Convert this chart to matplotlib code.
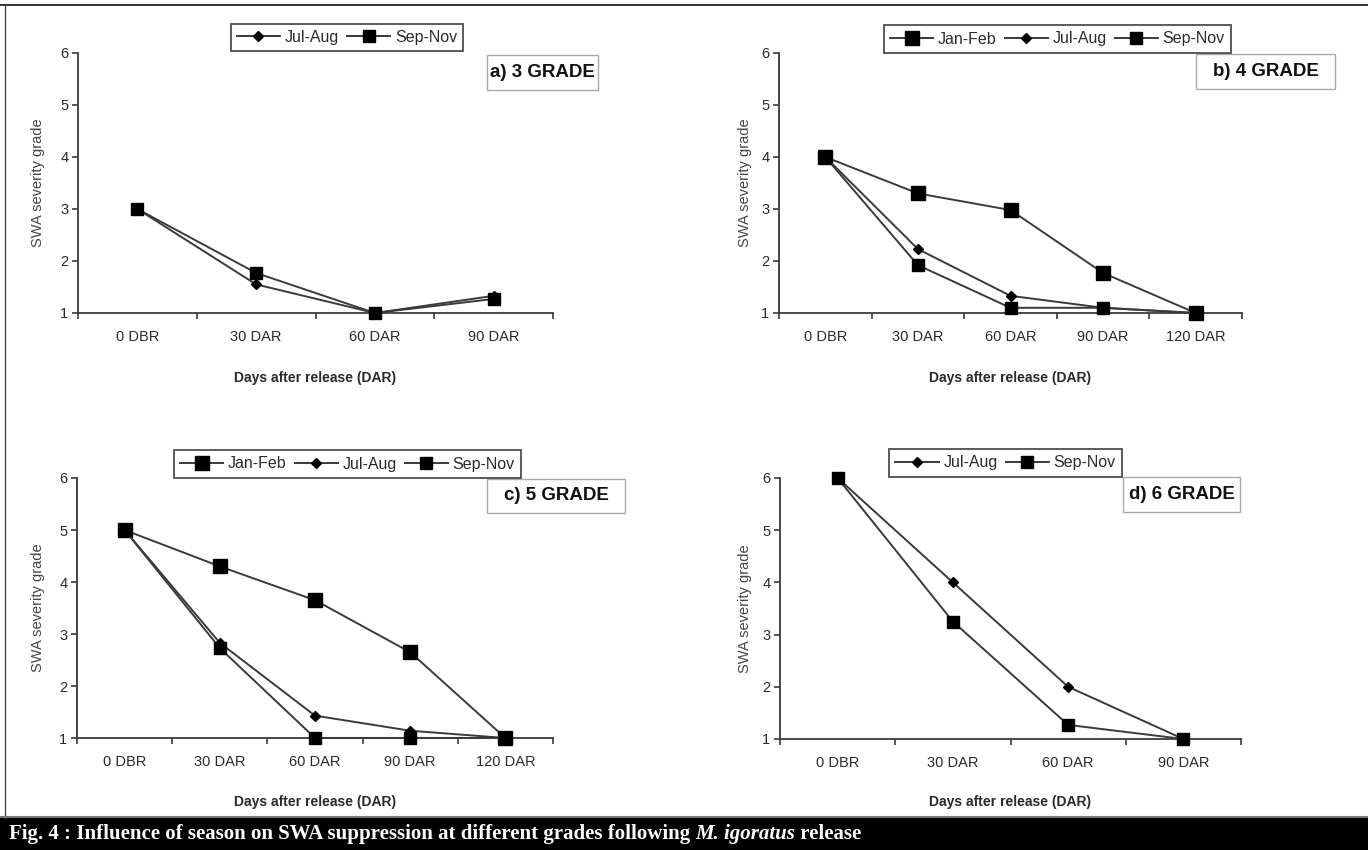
import numpy as np
import matplotlib
matplotlib.use("Agg")
import matplotlib.pyplot as plt
from matplotlib.patches import Rectangle
from matplotlib.lines import Line2D

plt.rcParams['font.family'] = ['Liberation Sans', 'DejaVu Sans']

# ---------------- data ----------------
cats4 = ["0 DBR", "30 DAR", "60 DAR", "90 DAR"]
cats5 = ["0 DBR", "30 DAR", "60 DAR", "90 DAR", "120 DAR"]

a_jul_aug = [3.0, 1.55, 1.0, 1.33]
a_sep_nov = [3.0, 1.77, 1.0, 1.27]

b_jan_feb = [4.0, 3.30, 2.98, 1.77, 1.0]
b_jul_aug = [4.0, 2.23, 1.33, 1.10, 1.0]
b_sep_nov = [4.0, 1.92, 1.10, 1.10, 1.0]

c_jan_feb = [5.0, 4.30, 3.65, 2.65, 1.0]
c_jul_aug = [5.0, 2.83, 1.43, 1.14, 1.0]
c_sep_nov = [5.0, 2.73, 1.0, 1.0, 1.0]

d_jul_aug = [6.0, 4.0, 2.0, 1.0]
d_sep_nov = [6.0, 3.25, 1.27, 1.0]

yticks = [1, 2, 3, 4, 5, 6]
xlabel = "Days after release (DAR)"
ylabel = "SWA severity grade"
caption_a = "Fig. 4 : Influence of season on SWA suppression at different grades following "
caption_b = "M. igoratus"
caption_c = " release"

W, H = 1368, 850
fig = plt.figure(figsize=(W / 100, H / 100), dpi=100)

LINE = '#3a3a3a'
TXT = '#2a2a2a'

styles = {
    'Jan-Feb': dict(marker='s', markersize=10, color=LINE, mfc='black', mec='black', lw=1.4),
    'Jul-Aug': dict(marker='D', markersize=5.5, color=LINE, mfc='black', mec='black', lw=1.4),
    'Sep-Nov': dict(marker='s', markersize=8.5, color=LINE, mfc='black', mec='black', lw=1.4),
}


def fx(x):
    return x / W


def fy(y):
    return 1 - y / H


def panel(left, right, bottom, top, cats, series, leg_box, title, title_box, ylab_x, xlab_y):
    ax = fig.add_axes([fx(left), fy(bottom), fx(right) - fx(left), fy(top) - fy(bottom)])
    n = len(cats)
    x = np.arange(n)
    for name, vals in series:
        ax.plot(x, vals, clip_on=False, zorder=3, label=name, **styles[name])
    ax.set_xlim(-0.5, n - 0.5)
    ax.set_ylim(1, 6)
    ax.set_yticks(yticks)
    ax.set_yticklabels([str(t) for t in yticks])
    ax.set_xticks(np.arange(n + 1) - 0.5)
    ax.set_xticklabels([])
    ax.set_xticks(x, minor=True)
    ax.set_xticklabels(cats, minor=True)
    ax.tick_params(axis='x', which='minor', length=0, pad=12, labelsize=10.5, labelcolor=TXT)
    ax.tick_params(axis='x', which='major', length=4, width=1.2, color=LINE, direction='out')
    ax.tick_params(axis='y', length=4, width=1.2, color=LINE, pad=3, labelsize=10.5, labelcolor=TXT)
    for s in ['top', 'right']:
        ax.spines[s].set_visible(False)
    for s in ['left', 'bottom']:
        ax.spines[s].set_color(LINE)
        ax.spines[s].set_linewidth(1.3)
    ax.patch.set_alpha(0)
    # axis labels
    ax.set_xlabel(xlabel, fontsize=10, fontweight='bold', color=TXT, va='center')
    ax.xaxis.set_label_coords(0.5, -(xlab_y - bottom) / (bottom - top))
    ax.set_ylabel(ylabel, fontsize=10.5, color='#444444', va='center')
    ax.yaxis.set_label_coords((ylab_x - left) / (right - left), 0.5)
    # legend
    lx0, ly0, lx1, ly1 = leg_box
    handles = [Line2D([], [], **styles[name]) for name, _ in series]
    labels = [name for name, _ in series]
    leg = fig.legend(handles, labels, loc='center',
                     bbox_to_anchor=(fx((lx0 + lx1) / 2), fy((ly0 + ly1) / 2)),
                     ncol=len(series), fontsize=11.5, frameon=True, fancybox=False,
                     handlelength=2.7, handletextpad=0.3, columnspacing=0.5,
                     borderpad=0.4, borderaxespad=0, labelcolor=TXT)
    leg.get_frame().set_edgecolor('#222222')
    leg.get_frame().set_linewidth(1.3)
    # title box
    tx0, ty0, tx1, ty1 = title_box
    fig.patches.append(Rectangle((fx(tx0), fy(ty1)), fx(tx1) - fx(tx0), fy(ty0) - fy(ty1),
                                 transform=fig.transFigure, fill=True, facecolor='white',
                                 edgecolor='#aaaaaa', lw=1.0, zorder=5))
    fig.text(fx((tx0 + tx1) / 2), fy((ty0 + ty1) / 2), title, ha='center', va='center',
             fontsize=13.5, fontweight='bold', color='#111111', zorder=6)
    return ax


panel(78, 553, 313, 53, cats4,
      [('Jul-Aug', a_jul_aug), ('Sep-Nov', a_sep_nov)],
      (228, 21, 466, 54), "a) 3 GRADE", (487, 55, 598, 90), 38, 378)
panel(779, 1242, 313, 53, cats5,
      [('Jan-Feb', b_jan_feb), ('Jul-Aug', b_jul_aug), ('Sep-Nov', b_sep_nov)],
      (883, 23, 1232, 55), "b) 4 GRADE", (1196, 54, 1335, 89), 745, 378)
panel(77, 553, 738, 478, cats5,
      [('Jan-Feb', c_jan_feb), ('Jul-Aug', c_jul_aug), ('Sep-Nov', c_sep_nov)],
      (173, 448, 522, 480), "c) 5 GRADE", (487, 479, 625, 513), 38, 802)
panel(780, 1241, 739, 478, cats4,
      [('Jul-Aug', d_jul_aug), ('Sep-Nov', d_sep_nov)],
      (906, 446, 1105, 480), "d) 6 GRADE", (1123, 477, 1240, 512), 745, 802)

# figure frame lines
fig.add_artist(Line2D([0, 1], [fy(5), fy(5)], transform=fig.transFigure, color='#222222', lw=1.3))
fig.add_artist(Line2D([fx(5), fx(5)], [fy(5), fy(818)], transform=fig.transFigure, color='#444444', lw=1.0))

# caption bar
fig.patches.append(Rectangle((0, 0), 1, fy(818), transform=fig.transFigure,
                             facecolor='black', edgecolor='none', zorder=1))
fig.add_artist(Line2D([0, 1], [fy(817), fy(817)], transform=fig.transFigure, color='#777777', lw=1.5))

cap_kw = dict(fontsize=15, fontweight='bold', color='white', va='center',
              family=['Liberation Serif', 'DejaVu Serif'], zorder=3)
renderer = fig.canvas.get_renderer()
xpos = fx(9)
ypos = fy(834)
t1 = fig.text(xpos, ypos, caption_a, **cap_kw)
bb = t1.get_window_extent(renderer)
xpos = bb.x1 / W
t2 = fig.text(xpos, ypos, caption_b, style='italic', **cap_kw)
bb = t2.get_window_extent(renderer)
xpos = bb.x1 / W
t3 = fig.text(xpos, ypos, caption_c, **cap_kw)
print("caption end px:", t3.get_window_extent(renderer).x1)

fig.savefig("out.png", dpi=100)
